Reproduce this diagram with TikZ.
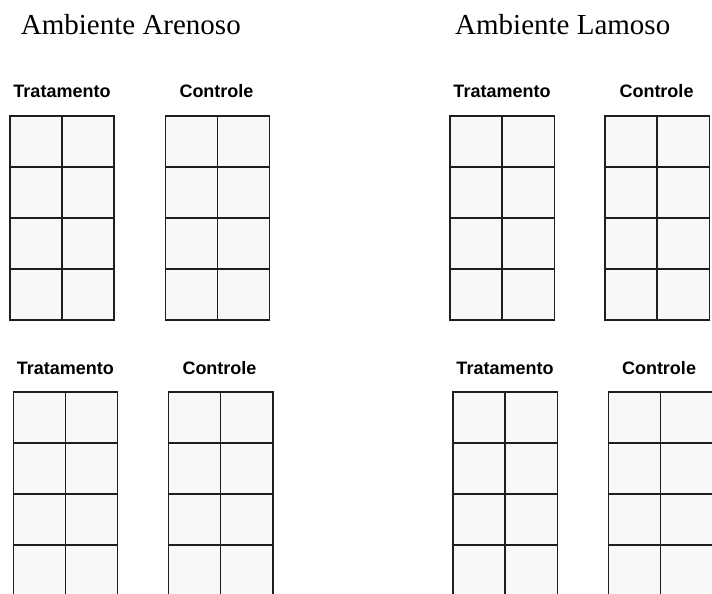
\documentclass[tikz,border=0pt]{standalone}
\usepackage{fontspec}
\setmainfont{Liberation Serif}
\newfontfamily\arialfont{Liberation Sans}
\definecolor{cellbg}{HTML}{F8F8F8}
\definecolor{gridcol}{HTML}{1E1E1E}
\tikzset{
  header/.style={anchor=base west, inner sep=0pt, font=\fontsize{29}{34}\selectfont},
  grouplabel/.style={anchor=base, inner sep=0pt, font=\arialfont\bfseries\fontsize{18}{21}\selectfont},
  gridline/.style={draw=gridcol, line width=1.6pt},
  cellfill/.style={fill=cellbg}
}
\begin{document}
\begin{tikzpicture}[x=1pt, y=-1pt]
\clip (0,0) rectangle (712,594);
\fill[white] (0,0) rectangle (712,594);

% headers
\node[header] (hA) at (20.7,35) {Ambiente Arenoso};
\node[header] (hL) at (455,35) {Ambiente Lamoso};

% grids: left x / top y / width
\foreach \gx/\gy/\gw in {10/115.7/104, 165.5/115.7/104, 450/115.7/104.3, 605/115.7/104.3,
                         13.3/391.7/104, 168.3/391.7/104.5, 452.7/391.7/104.6, 608.3/391.7/104.7} {
  \fill[cellfill] (\gx,\gy) rectangle ++(\gw,204.5);
  \foreach \k in {1,2,3} \draw[gridline] (\gx,\gy+\k*51.1) -- ++(\gw,0);
  \draw[gridline] (\gx+\gw/2,\gy) -- ++(0,204.5);
  \draw[gridline] (\gx,\gy) rectangle ++(\gw,204.5);
}

% group labels
\node[grouplabel] (tlT) at (62,97) {Tratamento};
\node[grouplabel] (tlC) at (216.5,97) {Controle};
\node[grouplabel] (trT) at (502,97) {Tratamento};
\node[grouplabel] (trC) at (656.5,97) {Controle};
\node[grouplabel] (blT) at (65.3,374) {Tratamento};
\node[grouplabel] (blC) at (219.5,374) {Controle};
\node[grouplabel] (brT) at (505,374) {Tratamento};
\node[grouplabel] (brC) at (659,374) {Controle};
\end{tikzpicture}
\end{document}
